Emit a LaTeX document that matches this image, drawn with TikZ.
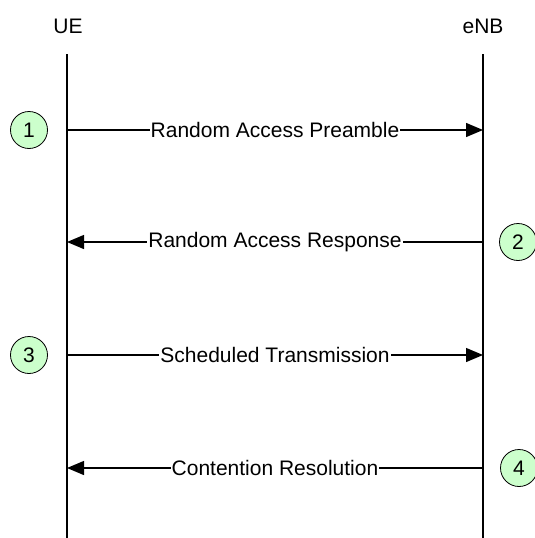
\documentclass[tikz,border=0pt]{standalone}
\usepackage{fontspec}
\setmainfont{Liberation Sans}
\usetikzlibrary{arrows.meta}

\begin{document}
\begin{tikzpicture}[x=1pt, y=-1pt, font=\fontsize{21}{24}\selectfont,
    msg/.style={line width=1.3pt, -{Triangle[length=17pt, width=14pt]}},
    lbl/.style={fill=white, inner xsep=1pt, inner ysep=0pt},
    num/.style={circle, draw=black, line width=0.8pt, fill=green!20, minimum size=37pt, inner sep=0pt}]

\useasboundingbox (0, 0) rectangle (535, 538);

\node (UE) at (68, 26) {UE};
\node (eNB) at (483, 26) {eNB};

\coordinate (ue0) at (67, 54);
\coordinate (ue1) at (67, 538);
\coordinate (enb0) at (483, 54);
\coordinate (enb1) at (483, 538);

\draw[line width=1.3pt] (ue0) -- (ue1);
\draw[line width=1.3pt] (enb0) -- (enb1);

\coordinate (a1) at (67, 130);
\coordinate (b1) at (483, 130);
\coordinate (a2) at (67, 242);
\coordinate (b2) at (483, 242);
\coordinate (a3) at (67, 355);
\coordinate (b3) at (483, 355);
\coordinate (a4) at (67, 468);
\coordinate (b4) at (483, 468);

\draw[msg] (a1) -- node[lbl]{Random Access Preamble} (b1);
\draw[msg] (b2) -- node[lbl]{Random Access Response} (a2);
\draw[msg] (a3) -- node[lbl]{Scheduled Transmission} (b3);
\draw[msg] (b4) -- node[lbl]{Contention Resolution} (a4);

\node[num] (1) at (29, 130) {1};
\node[num] (2) at (518, 242) {2};
\node[num] (3) at (29, 355) {3};
\node[num] (4) at (519, 468) {4};

\end{tikzpicture}
\end{document}
